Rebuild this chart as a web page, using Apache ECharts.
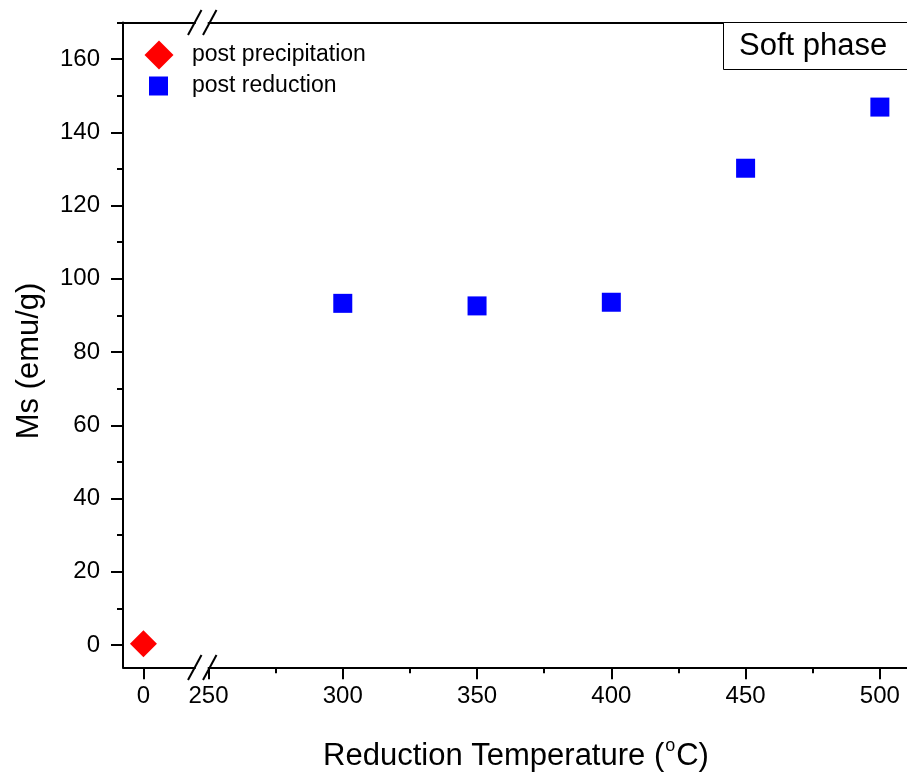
<!DOCTYPE html>
<html><head><meta charset="utf-8">
<script src="https://cdn.jsdelivr.net/npm/echarts@6/dist/echarts.min.js"></script>
<style>html,body{margin:0;padding:0;background:#fff}#c{width:907px;height:776px}</style>
</head><body><div id="c"></div><script>
// ---- data ----
const seriesNames = ['post precipitation', 'post reduction'];
const precipTemps = [0];
const precipMs = [0.3];
const reductionTemps = [300, 350, 400, 450, 500];
const reductionMs = [93.3, 92.6, 93.6, 130.2, 146.9];
const yTickLabels = [0, 20, 40, 60, 80, 100, 120, 140, 160];
const yMinorTicks = [10, 30, 50, 70, 90, 110, 130, 150, 170];
const xLeftTickLabels = [0];
const xRightTickLabels = [250, 300, 350, 400, 450, 500];
const xRightMinorTicks = [275, 325, 375, 425, 475];
const xTitle = 'Reduction Temperature (';
const yTitle = 'Ms (emu/g)';
const boxLabel = 'Soft phase';

// ---- chart ----
const FONT = 'Liberation Sans, Arial, sans-serif';
const Y_MIN = -6.1, Y_MAX = 170;
const chart = echarts.init(document.getElementById('c'), null, {renderer: 'canvas'});
const lineStyle = {color: '#000', width: 2};
const axisLineOn = {show: true, onZero: false, lineStyle};
const hiddenLine = {show: false, onZero: false};

function zip(a, b) { return a.map((v, i) => [v, b[i]]); }

const option = {
  backgroundColor: '#fff',
  animation: false,
  textStyle: {fontFamily: FONT, color: '#000'},
  grid: [
    {left: 123, top: 22.5, width: 72, bottom: 108.7, outerBoundsMode: 'none', containLabel: false},
    {left: 208.5, top: 22.5, right: 0, bottom: 108.7, outerBoundsMode: 'none', containLabel: false}
  ],
  xAxis: [
    {gridIndex: 0, type: 'value', position: 'bottom', min: -7.6, max: 19.2,
      axisLine: axisLineOn, splitLine: {show: false},
      axisTick: {show: true, inside: false, length: 12, lineStyle, customValues: xLeftTickLabels},
      axisLabel: {show: true, customValues: xLeftTickLabels, fontSize: 24, margin: 17, color: '#000', fontFamily: FONT}},
    {gridIndex: 0, type: 'value', position: 'top', min: -7.6, max: 19.2,
      axisLine: axisLineOn, splitLine: {show: false}, axisTick: {show: false}, axisLabel: {show: false}},
    {gridIndex: 1, type: 'value', position: 'bottom', min: 250, max: 510.1,
      axisLine: axisLineOn, splitLine: {show: false},
      axisTick: {show: true, inside: false, length: 12, lineStyle, customValues: xRightTickLabels},
      axisLabel: {show: true, customValues: xRightTickLabels, fontSize: 24, margin: 17, color: '#000', fontFamily: FONT}},
    {gridIndex: 1, type: 'value', position: 'bottom', min: 250, max: 510.1,
      axisLine: hiddenLine, splitLine: {show: false},
      axisTick: {show: true, inside: false, length: 6, lineStyle, customValues: xRightMinorTicks},
      axisLabel: {show: false}},
    {gridIndex: 1, type: 'value', position: 'top', min: 250, max: 510.1,
      axisLine: axisLineOn, splitLine: {show: false}, axisTick: {show: false}, axisLabel: {show: false}}
  ],
  yAxis: [
    {gridIndex: 0, type: 'value', position: 'left', min: Y_MIN, max: Y_MAX,
      axisLine: axisLineOn, splitLine: {show: false},
      axisTick: {show: true, inside: false, length: 12, lineStyle, customValues: yTickLabels},
      axisLabel: {show: true, customValues: yTickLabels, fontSize: 24, margin: 23, color: '#000', fontFamily: FONT}},
    {gridIndex: 0, type: 'value', position: 'left', min: Y_MIN, max: Y_MAX,
      axisLine: hiddenLine, splitLine: {show: false},
      axisTick: {show: true, inside: false, length: 6, lineStyle, customValues: yMinorTicks},
      axisLabel: {show: false}},
    {gridIndex: 1, type: 'value', min: Y_MIN, max: Y_MAX, show: false}
  ],
  legend: [
    {data: [seriesNames[0]], left: 144.5, top: 40.5, itemWidth: 29, itemHeight: 29, itemGap: 0,
      textStyle: {fontSize: 23, color: '#000', fontFamily: FONT, padding: [0, 0, 0, 13.5]}, padding: 0},
    {data: [seriesNames[1]], left: 149, top: 74.5, itemWidth: 19, itemHeight: 19, itemGap: 0,
      textStyle: {fontSize: 23, color: '#000', fontFamily: FONT, padding: [0, 0, 0, 19]}, padding: 0}
  ],
  title: {
    text: boxLabel, left: 723, top: 22, padding: [7, 40, 7, 16],
    borderColor: '#000', borderWidth: 1, backgroundColor: '#fff',
    textStyle: {fontSize: 31, fontWeight: 'normal', color: '#000', fontFamily: FONT, lineHeight: 34}
  },
  series: [
    {name: seriesNames[0], type: 'scatter', xAxisIndex: 0, yAxisIndex: 0,
      symbol: 'diamond', symbolSize: 27, itemStyle: {color: '#ff0000', opacity: 1},
      data: zip(precipTemps, precipMs)},
    {name: seriesNames[1], type: 'scatter', xAxisIndex: 2, yAxisIndex: 2,
      symbol: 'rect', symbolSize: 19, itemStyle: {color: '#0000ff', opacity: 1},
      data: zip(reductionTemps, reductionMs)}
  ],
  graphic: [
    {type: 'line', shape: {x1: 188, y1: 35, x2: 201.5, y2: 10}, style: {stroke: '#000', lineWidth: 2}, silent: true},
    {type: 'line', shape: {x1: 203, y1: 35, x2: 216.5, y2: 10}, style: {stroke: '#000', lineWidth: 2}, silent: true},
    {type: 'line', shape: {x1: 188, y1: 680, x2: 201.5, y2: 655}, style: {stroke: '#000', lineWidth: 2}, silent: true},
    {type: 'line', shape: {x1: 203, y1: 680, x2: 216.5, y2: 655}, style: {stroke: '#000', lineWidth: 2}, silent: true},
    {type: 'text', x: 516, y: 756, silent: true,
      style: {text: xTitle + '{sup|o}C)', fontSize: 31, fontFamily: FONT, fill: '#000',
        align: 'center', verticalAlign: 'middle',
        rich: {sup: {fontSize: 18, fontFamily: FONT, fill: '#000', verticalAlign: 'bottom', padding: [0, 1, 20, 1]}}}},
    {type: 'text', x: 29, y: 361, rotation: Math.PI / 2, silent: true,
      style: {text: yTitle, fontSize: 31, fontFamily: FONT, fill: '#000', align: 'center', verticalAlign: 'middle'}}
  ]
};
chart.setOption(option);
</script></body></html>
